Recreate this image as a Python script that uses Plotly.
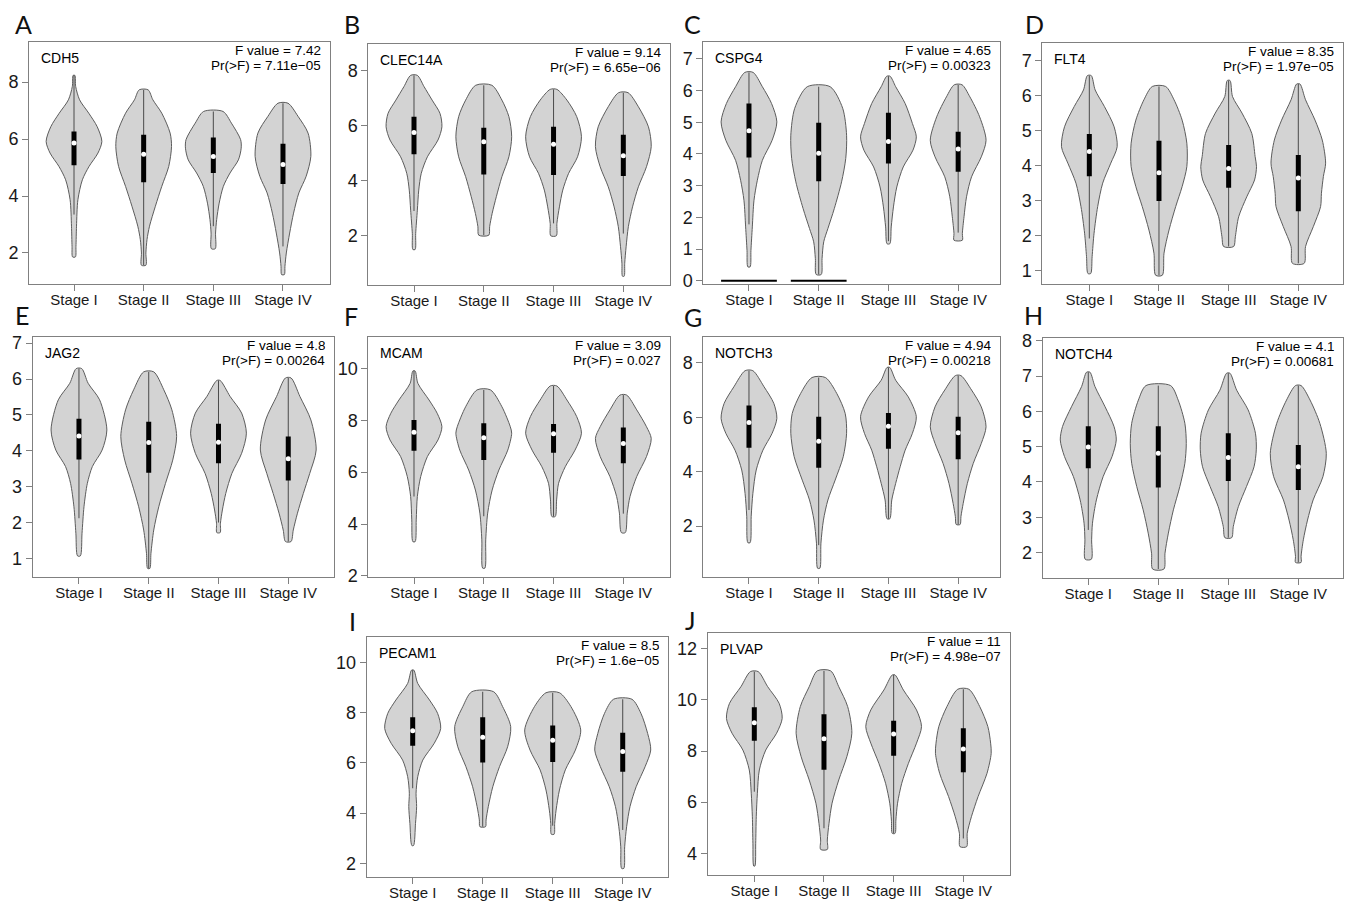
import plotly.graph_objects as go

# ---------------- data ----------------
STAGES = ["Stage I", "Stage II", "Stage III", "Stage IV"]
GENES = ["CDH5", "CLEC14A", "CSPG4", "FLT4", "JAG2", "MCAM", "NOTCH3", "NOTCH4", "PECAM1", "PLVAP"]
LETTERS = ["A", "B", "C", "D", "E", "F", "G", "H", "I", "J"]
F_VALUES = ["7.42", "9.14", "4.65", "8.35", "4.8", "3.09", "4.94", "4.1", "8.5", "11"]
P_VALUES = ["7.11e\u221205", "6.65e\u221206", "0.00323", "1.97e\u221205", "0.00264",
            "0.027", "0.00218", "0.00681", "1.6e\u221205", "4.98e\u221207"]

# violin outline knots: values (top -> bottom) and relative half-widths
CDH5_Y = [[8.24, 7.85, 7.38, 6.91, 6.44, 5.92, 5.51, 5.04, 4.57, 3.87, 2.94, 2.23, 1.86],
          [7.73, 7.38, 6.91, 6.21, 5.74, 5.04, 4.34, 3.64, 2.94, 2.47, 2.0, 1.57],
          [6.97, 6.56, 5.98, 5.68, 5.27, 4.81, 4.34, 3.75, 3.17, 2.70, 2.15],
          [7.26, 6.80, 6.21, 5.39, 4.69, 4.11, 3.40, 2.70, 2.0, 1.53, 1.24]]
CDH5_W = [[0.03, 0.06, 0.2, 0.53, 0.83, 1.0, 0.86, 0.54, 0.3, 0.14, 0.09, 0.07, 0.05],
          [0.16, 0.33, 0.65, 0.95, 1.0, 0.9, 0.65, 0.42, 0.21, 0.12, 0.08, 0.08],
          [0.35, 0.65, 0.98, 1.0, 0.9, 0.6, 0.36, 0.21, 0.12, 0.08, 0.07],
          [0.18, 0.54, 0.9, 1.0, 0.83, 0.57, 0.38, 0.24, 0.12, 0.07, 0.05]]
CDH5_BOX = [[5.08, 5.86, 6.27], [4.48, 5.47, 6.15], [4.81, 5.39, 6.06], [4.42, 5.11, 5.84]]
CDH5_WHISK = [[3.35, 8.24], [1.57, 7.73], [2.94, 6.97], [2.23, 7.26]]

CLEC14A_Y = [[7.83, 7.42, 6.93, 6.45, 5.96, 5.48, 4.87, 4.27, 3.66, 2.93, 2.08, 1.50],
             [7.47, 6.93, 6.33, 5.60, 4.87, 4.15, 3.42, 2.81, 2.33, 2.02],
             [7.32, 6.93, 6.33, 5.60, 4.87, 4.27, 3.66, 3.05, 2.45, 2.0],
             [7.2, 6.69, 5.96, 5.24, 4.51, 3.78, 3.05, 2.33, 1.6, 1.0, 0.53]]
CLEC14A_W = [[0.12, 0.36, 0.65, 0.93, 1.0, 0.86, 0.48, 0.26, 0.17, 0.12, 0.06, 0.04],
             [0.29, 0.65, 0.9, 1.0, 0.9, 0.65, 0.45, 0.3, 0.21, 0.18],
             [0.12, 0.48, 0.83, 1.0, 0.86, 0.54, 0.33, 0.21, 0.12, 0.1],
             [0.17, 0.54, 0.9, 1.0, 0.83, 0.54, 0.33, 0.18, 0.1, 0.05, 0.03]]
CLEC14A_BOX = [[4.96, 5.75, 6.33], [4.23, 5.42, 5.93], [4.21, 5.33, 5.96], [4.17, 4.91, 5.67]]
CLEC14A_WHISK = [[2.9, 7.83], [2.02, 7.47], [2.45, 7.32], [2.08, 7.2]]

CSPG4_Y = [[6.57, 6.12, 5.59, 5.01, 4.43, 3.80, 3.17, 2.54, 1.70, 0.96, 0.44],
           [6.12, 5.44, 4.59, 3.86, 3.12, 2.28, 1.65, 1.23, 0.70, 0.20],
           [6.45, 6.12, 5.59, 4.96, 4.54, 4.12, 3.59, 2.96, 2.33, 1.70, 1.17],
           [6.18, 5.80, 5.17, 4.43, 3.91, 3.28, 2.65, 2.02, 1.49, 1.28]]
CSPG4_W = [[0.15, 0.48, 0.81, 1.0, 0.83, 0.48, 0.3, 0.18, 0.12, 0.07, 0.04],
           [0.41, 0.86, 1.0, 0.97, 0.82, 0.56, 0.33, 0.18, 0.12, 0.09],
           [0.06, 0.26, 0.6, 0.86, 1.0, 0.88, 0.53, 0.3, 0.18, 0.1, 0.05],
           [0.14, 0.42, 0.77, 1.0, 0.83, 0.48, 0.3, 0.21, 0.15, 0.15]]
CSPG4_BOX = [[3.89, 4.73, 5.59], [3.14, 4.02, 4.98], [3.70, 4.39, 5.30], [3.44, 4.16, 4.70]]
CSPG4_WHISK = [[1.78, 6.57], [0.2, 6.12], [1.25, 6.45], [1.52, 6.18]]
CSPG4_ZERO = [0, 0, None, None]

FLT4_Y = [[6.57, 6.16, 5.69, 5.11, 4.54, 4.07, 3.50, 2.83, 2.07, 1.40, 0.92],
          [6.26, 5.88, 5.30, 4.64, 3.97, 3.40, 2.83, 2.16, 1.50, 0.87],
          [6.43, 5.97, 5.50, 4.92, 4.26, 3.97, 3.59, 3.11, 2.54, 1.97, 1.69],
          [6.33, 5.88, 5.30, 4.73, 4.07, 3.69, 3.21, 2.83, 2.26, 1.69, 1.21]]
FLT4_W = [[0.07, 0.21, 0.54, 0.89, 1.0, 0.77, 0.48, 0.3, 0.17, 0.1, 0.05],
          [0.24, 0.54, 0.83, 1.0, 1.0, 0.83, 0.6, 0.36, 0.18, 0.12],
          [0.05, 0.14, 0.48, 0.83, 0.95, 1.0, 0.93, 0.65, 0.36, 0.24, 0.18],
          [0.06, 0.26, 0.6, 0.86, 0.98, 0.9, 0.83, 0.8, 0.54, 0.26, 0.21]]
FLT4_BOX = [[3.70, 4.40, 4.90], [2.99, 3.80, 4.71], [3.37, 3.92, 4.59], [2.70, 3.65, 4.30]]
FLT4_WHISK = [[1.92, 6.57], [0.87, 6.26], [1.69, 6.43], [1.21, 6.33]]

JAG2_Y = [[6.29, 5.88, 5.42, 4.58, 4.02, 3.56, 3.09, 2.44, 1.70, 1.07],
          [6.20, 5.70, 5.14, 4.40, 3.74, 3.09, 2.44, 1.79, 1.14, 0.72],
          [5.96, 5.51, 5.05, 4.49, 3.93, 3.37, 2.81, 2.35, 1.98, 1.72],
          [6.03, 5.51, 4.86, 4.02, 3.37, 2.81, 2.26, 1.79, 1.47]]
JAG2_W = [[0.1, 0.33, 0.74, 1.0, 0.83, 0.48, 0.3, 0.18, 0.11, 0.05],
          [0.18, 0.54, 0.83, 1.0, 0.86, 0.6, 0.36, 0.18, 0.08, 0.04],
          [0.06, 0.42, 0.83, 1.0, 0.83, 0.48, 0.26, 0.14, 0.07, 0.06],
          [0.1, 0.42, 0.81, 1.0, 0.77, 0.54, 0.33, 0.18, 0.1]]
JAG2_BOX = [[3.76, 4.41, 4.89], [3.39, 4.23, 4.81], [3.65, 4.24, 4.75], [3.17, 3.78, 4.40]]
JAG2_WHISK = [[2.12, 6.29], [0.72, 6.20], [2.0, 5.96], [1.47, 6.03]]

MCAM_Y = [[9.90, 9.42, 8.78, 8.27, 7.75, 7.24, 6.60, 5.83, 5.06, 4.16, 3.32],
          [9.17, 8.52, 7.75, 7.50, 6.85, 6.08, 5.31, 4.42, 3.39, 2.30],
          [9.32, 8.78, 8.14, 7.50, 6.85, 6.21, 5.57, 4.93, 4.29],
          [8.97, 8.40, 7.75, 7.30, 6.60, 5.83, 5.06, 4.42, 3.67]]
MCAM_W = [[0.04, 0.14, 0.54, 0.83, 1.0, 0.86, 0.48, 0.24, 0.12, 0.08, 0.04],
          [0.24, 0.65, 0.95, 1.0, 0.86, 0.54, 0.3, 0.14, 0.07, 0.04],
          [0.12, 0.48, 0.83, 1.0, 0.77, 0.42, 0.18, 0.11, 0.06],
          [0.12, 0.48, 0.83, 1.0, 0.83, 0.48, 0.24, 0.14, 0.07]]
MCAM_BOX = [[6.82, 7.54, 8.01], [6.47, 7.33, 7.88], [6.75, 7.48, 7.86], [6.34, 7.10, 7.72]]
MCAM_WHISK = [[5.06, 9.90], [4.3, 9.17], [4.29, 9.32], [4.4, 8.97]]

NOTCH3_Y = [[7.71, 7.12, 6.51, 5.96, 5.41, 4.79, 4.06, 3.20, 2.36, 1.39],
            [7.46, 6.87, 6.14, 5.41, 4.55, 3.69, 2.96, 2.22, 1.37, 0.45],
            [7.83, 7.36, 6.75, 6.02, 5.41, 4.79, 4.18, 3.57, 2.96, 2.27],
            [7.53, 7.0, 6.38, 5.65, 5.04, 4.30, 3.57, 2.83, 2.35, 2.06]]
NOTCH3_W = [[0.14, 0.54, 0.89, 1.0, 0.83, 0.5, 0.26, 0.14, 0.08, 0.04],
            [0.24, 0.65, 0.95, 1.0, 0.88, 0.59, 0.33, 0.17, 0.08, 0.04],
            [0.05, 0.26, 0.71, 1.0, 0.86, 0.6, 0.42, 0.26, 0.12, 0.05],
            [0.1, 0.48, 0.83, 1.0, 0.83, 0.54, 0.33, 0.18, 0.1, 0.07]]
NOTCH3_BOX = [[4.88, 5.81, 6.43], [4.14, 5.12, 6.02], [4.84, 5.67, 6.16], [4.46, 5.43, 6.02]]
NOTCH3_WHISK = [[2.59, 7.71], [1.3, 7.46], [2.27, 7.83], [2.06, 7.53]]

NOTCH4_Y = [[7.11, 6.70, 6.13, 5.57, 5.19, 4.72, 4.15, 3.49, 2.83, 2.36, 1.81],
            [6.73, 6.32, 5.66, 5.09, 4.53, 3.87, 3.21, 2.55, 1.98, 1.53],
            [7.08, 6.60, 6.04, 5.38, 4.91, 4.43, 3.87, 3.30, 2.74, 2.42],
            [6.73, 6.32, 5.66, 4.81, 4.15, 3.49, 2.92, 2.36, 1.89, 1.72]]
NOTCH4_W = [[0.06, 0.24, 0.6, 0.92, 1.0, 0.85, 0.53, 0.29, 0.15, 0.12, 0.11],
            [0.44, 0.71, 0.95, 1.0, 0.95, 0.77, 0.54, 0.36, 0.24, 0.2],
            [0.06, 0.3, 0.71, 0.97, 1.0, 0.92, 0.65, 0.36, 0.18, 0.12],
            [0.1, 0.42, 0.77, 1.0, 0.88, 0.53, 0.33, 0.18, 0.1, 0.1]]
NOTCH4_BOX = [[4.39, 4.99, 5.58], [3.84, 4.81, 5.58], [4.03, 4.69, 5.38], [3.77, 4.43, 5.05]]
NOTCH4_WHISK = [[2.64, 7.11], [1.53, 6.73], [2.42, 7.08], [1.72, 6.73]]

PECAM1_Y = [[9.69, 9.16, 8.50, 7.97, 7.37, 6.78, 6.11, 5.45, 4.79, 4.26, 3.59, 2.71],
            [8.83, 8.24, 7.44, 6.64, 5.85, 5.05, 4.26, 3.73, 3.46],
            [8.79, 8.24, 7.31, 6.51, 5.72, 4.92, 4.12, 3.59, 3.16],
            [8.53, 7.97, 7.17, 6.51, 5.85, 5.05, 4.26, 3.46, 2.66, 1.80]]
PECAM1_W = [[0.04, 0.18, 0.6, 0.89, 1.0, 0.77, 0.36, 0.18, 0.12, 0.14, 0.1, 0.03],
            [0.39, 0.71, 1.0, 0.89, 0.6, 0.36, 0.2, 0.12, 0.1],
            [0.24, 0.65, 1.0, 0.81, 0.45, 0.24, 0.12, 0.07, 0.05],
            [0.33, 0.65, 0.89, 1.0, 0.8, 0.48, 0.26, 0.14, 0.07, 0.04]]
PECAM1_BOX = [[6.68, 7.28, 7.81], [6.01, 7.02, 7.81], [6.03, 6.90, 7.49], [5.65, 6.45, 7.20]]
PECAM1_WHISK = [[4.99, 9.69], [3.46, 8.83], [3.5, 8.79], [3.33, 8.53]]

PLVAP_Y = [[11.11, 10.52, 9.87, 9.28, 8.70, 8.04, 7.26, 6.35, 5.43, 4.39, 3.50],
           [11.14, 10.52, 9.74, 8.70, 7.78, 6.87, 5.96, 5.17, 4.52, 4.15],
           [10.98, 10.39, 9.61, 8.96, 8.31, 7.52, 6.74, 5.96, 5.30, 4.78],
           [10.42, 9.74, 8.96, 8.31, 7.91, 7.13, 6.22, 5.43, 4.78, 4.26]]
PLVAP_W = [[0.14, 0.48, 0.89, 1.0, 0.8, 0.41, 0.18, 0.11, 0.07, 0.05, 0.02],
           [0.24, 0.53, 0.85, 1.0, 0.82, 0.53, 0.29, 0.18, 0.12, 0.12],
           [0.05, 0.35, 0.82, 1.0, 0.82, 0.53, 0.29, 0.14, 0.08, 0.05],
           [0.2, 0.59, 0.88, 0.98, 1.0, 0.85, 0.53, 0.29, 0.14, 0.12]]
PLVAP_BOX = [[8.40, 9.11, 9.72], [7.27, 8.48, 9.44], [7.82, 8.67, 9.19], [7.17, 8.08, 8.89]]
PLVAP_WHISK = [[6.41, 11.11], [4.98, 11.14], [4.78, 10.98], [4.58, 10.42]]

# ---------------- layout (pixel geometry, styling) ----------------
W, H = 1346, 903
PANEL_BOX = [  # left, right, top, bottom in px
    (29, 330, 42.3, 284), (368.3, 670, 44, 285), (703.3, 1000, 42.3, 284), (1042.3, 1343.3, 42.7, 284),
    (32.7, 334.3, 336.7, 576.7), (368.3, 670, 336.7, 576.7), (703.3, 1000, 336.7, 576.7), (1042.7, 1343.3, 338.3, 578.3),
    (366.7, 668.3, 636.7, 876.7), (707.7, 1010, 633.3, 875)]
Y_RANGE = [(0.91, 9.40), (0.21, 8.97), (-0.10, 7.52), (0.62, 7.51), (0.49, 7.18),
           (1.97, 11.22), (0.14, 8.96), (1.27, 8.07), (1.47, 11.02), (3.15, 12.61)]
X_RANGE = [(0.354, 4.675), (0.345, 4.669), (0.345, 4.60), (0.325, 4.646), (0.337, 4.66),
           (0.345, 4.669), (0.345, 4.60), (0.349, 4.643), (0.343, 4.651), (0.331, 4.67)]
Y_DTICK = [2, 2, 1, 1, 1, 2, 2, 1, 2, 2]
LETTER_POS = [(12.7, 24), (341.7, 24), (681.7, 24), (1022.7, 24),
              (12.7, 315), (341.7, 316), (681.7, 317), (1021.7, 315),
              (346.7, 621), (683, 620)]
HALF_W = 0.4
FONT = "Liberation Sans, Arial, sans-serif"

ALL_Y = [CDH5_Y, CLEC14A_Y, CSPG4_Y, FLT4_Y, JAG2_Y, MCAM_Y, NOTCH3_Y, NOTCH4_Y, PECAM1_Y, PLVAP_Y]
ALL_W = [CDH5_W, CLEC14A_W, CSPG4_W, FLT4_W, JAG2_W, MCAM_W, NOTCH3_W, NOTCH4_W, PECAM1_W, PLVAP_W]
ALL_BOX = [CDH5_BOX, CLEC14A_BOX, CSPG4_BOX, FLT4_BOX, JAG2_BOX, MCAM_BOX, NOTCH3_BOX, NOTCH4_BOX, PECAM1_BOX, PLVAP_BOX]
ALL_WHISK = [CDH5_WHISK, CLEC14A_WHISK, CSPG4_WHISK, FLT4_WHISK, JAG2_WHISK, MCAM_WHISK,
             NOTCH3_WHISK, NOTCH4_WHISK, PECAM1_WHISK, PLVAP_WHISK]


def px(x):
    return x / W


def py(y):
    return 1 - y / H


fig = go.Figure()
annotations = []

for p in range(10):
    xa = "x" if p == 0 else f"x{p + 1}"
    ya = "y" if p == 0 else f"y{p + 1}"
    L, R, T, B = PANEL_BOX[p]
    for s in range(4):
        c = s + 1
        ys = ALL_Y[p][s]
        ws = ALL_W[p][s]
        xs = [c + w * HALF_W for w in reversed(ws)] + [c - w * HALF_W for w in ws]
        yy = list(reversed(ys)) + list(ys)
        xs.append(xs[0])
        yy.append(yy[0])
        fig.add_trace(go.Scatter(x=xs, y=yy, xaxis=xa, yaxis=ya, mode="lines", fill="toself",
                                 fillcolor="#d3d3d3", line=dict(color="#5c5c5c", width=1, shape="spline", smoothing=0.8),
                                 hoverinfo="skip", showlegend=False))
        lo, hi = ALL_WHISK[p][s]
        fig.add_trace(go.Scatter(x=[c, c], y=[lo, hi], xaxis=xa, yaxis=ya, mode="lines",
                                 line=dict(color="#4a4a4a", width=1), hoverinfo="skip", showlegend=False))
        q1, med, q3 = ALL_BOX[p][s]
        fig.add_trace(go.Scatter(x=[c, c], y=[q1, q3], xaxis=xa, yaxis=ya, mode="lines",
                                 line=dict(color="black", width=5), hoverinfo="skip", showlegend=False))
        fig.add_trace(go.Scatter(x=[c], y=[med], xaxis=xa, yaxis=ya, mode="markers",
                                 marker=dict(color="white", size=5, line=dict(width=0)),
                                 hoverinfo="skip", showlegend=False))
        if p == 2 and CSPG4_ZERO[s] is not None:
            fig.add_trace(go.Scatter(x=[c - HALF_W, c + HALF_W], y=[CSPG4_ZERO[s]] * 2, xaxis=xa, yaxis=ya,
                                     mode="lines", line=dict(color="black", width=2),
                                     hoverinfo="skip", showlegend=False))

    xkey = "xaxis" if p == 0 else f"xaxis{p + 1}"
    ykey = "yaxis" if p == 0 else f"yaxis{p + 1}"
    fig.layout[xkey] = dict(domain=[px(L), px(R)], range=list(X_RANGE[p]), anchor=ya,
                            tickmode="array", tickvals=[1, 2, 3, 4], ticktext=STAGES,
                            ticks="outside", ticklen=6, tickcolor="#808080", tickwidth=1,
                            ticklabelstandoff=-4,
                            showline=True, mirror=True, linecolor="#808080", linewidth=1,
                            showgrid=False, zeroline=False, fixedrange=True, automargin=False,
                            tickfont=dict(family=FONT, size=15, color="#1a1a1a"))
    fig.layout[ykey] = dict(domain=[py(B), py(T)], range=list(Y_RANGE[p]), anchor=xa,
                            dtick=Y_DTICK[p], tick0=0,
                            ticks="outside", ticklen=6, tickcolor="#808080", tickwidth=1,
                            showline=True, mirror=True, linecolor="#808080", linewidth=1,
                            showgrid=False, zeroline=False, fixedrange=True, automargin=False,
                            tickfont=dict(family=FONT, size=18, color="#1a1a1a"))

    annotations.append(dict(x=px(L + 10), y=py(T + 16), xref="paper", yref="paper", text=GENES[p],
                            showarrow=False, xanchor="left", yanchor="middle",
                            font=dict(family=FONT, size=14, color="black")))
    annotations.append(dict(x=px(R - 7), y=py(T + 8.5), xref="paper", yref="paper",
                            text=f"F value = {F_VALUES[p]}", showarrow=False, xanchor="right", yanchor="middle",
                            height=15, valign="middle",
                            font=dict(family=FONT, size=13.5, color="black")))
    annotations.append(dict(x=px(R - 7), y=py(T + 23.5), xref="paper", yref="paper",
                            text=f"Pr(>F) = {P_VALUES[p]}", showarrow=False, xanchor="right", yanchor="middle",
                            height=15, valign="middle",
                            font=dict(family=FONT, size=13.5, color="black")))
    lx, ly = LETTER_POS[p]
    annotations.append(dict(x=px(lx), y=py(ly), xref="paper", yref="paper", text=LETTERS[p],
                            showarrow=False, xanchor="left", yanchor="middle",
                            font=dict(family="Lato, Noto Sans, sans-serif", size=25, color="#111")))

fig.update_layout(width=W, height=H, margin=dict(l=0, r=0, t=0, b=0, autoexpand=False),
                  paper_bgcolor="white", plot_bgcolor="white", annotations=annotations,
                  showlegend=False)

fig.write_html("out.html", config={"displayModeBar": False},
               post_script="document.body.style.margin='0';document.body.style.padding='0';"
                           "document.body.style.overflow='hidden';")
